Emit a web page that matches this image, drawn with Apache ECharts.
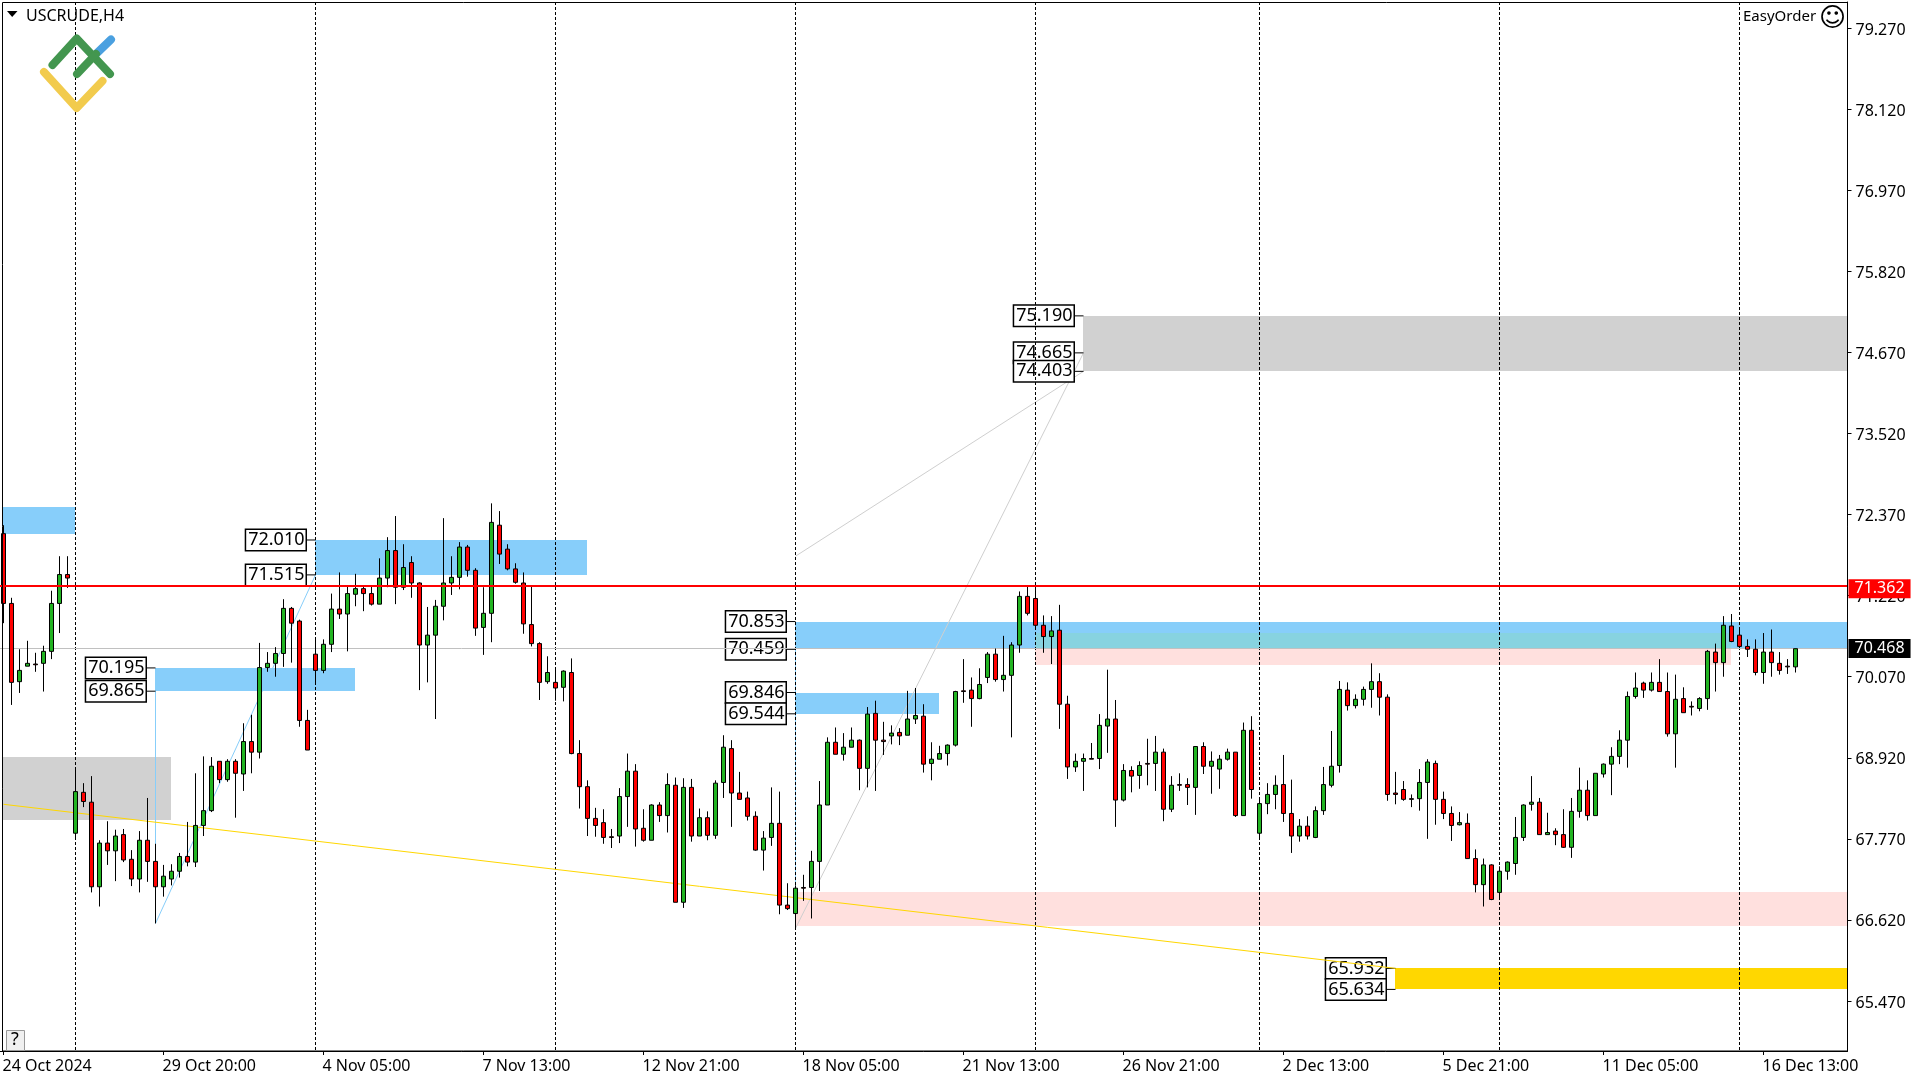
<!DOCTYPE html>
<html>
<head>
<meta charset="utf-8">
<style>html,body{margin:0;padding:0;background:#fff}#chart{width:1920px;height:1080px}</style>
<script src="https://cdn.jsdelivr.net/npm/echarts@6/dist/echarts.min.js"></script>
</head>
<body>
<div id="chart"></div>
<script>
const timeLabels=['24 Oct 2024','29 Oct 20:00','4 Nov 05:00','7 Nov 13:00','12 Nov 21:00','18 Nov 05:00','21 Nov 13:00','26 Nov 21:00','2 Dec 13:00','5 Dec 21:00','11 Dec 05:00','16 Dec 13:00'];
const priceTicks=[65.47,66.62,67.77,68.92,70.07,71.22,72.37,73.52,74.67,75.82,76.97,78.12,79.27];
const sessionBars=[9,39,69,99,129,157,187,217];

const opens=[72.10,71.11,70.00,70.22,70.25,70.26,70.43,71.11,71.52,67.85,68.43,68.29,67.09,67.71,67.60,67.83,67.48,67.20,67.75,67.45,67.09,67.20,67.31,67.52,67.44,
67.96,68.17,68.87,68.61,68.87,68.69,69.15,69.00,70.20,70.26,70.40,71.04,70.86,69.45,70.39,70.16,70.53,71.03,70.96,71.24,71.32,71.25,71.10,71.47,71.86,
71.34,71.69,71.40,70.52,70.66,71.07,71.40,71.48,71.91,71.58,70.77,70.97,72.22,71.88,71.60,71.40,70.81,70.54,70.00,69.99,69.92,70.13,68.98,68.51,68.06,
68.00,67.80,67.81,68.37,68.73,67.92,67.75,68.25,68.10,68.53,66.87,68.50,67.81,68.07,67.82,68.57,69.05,68.42,68.35,68.09,67.61,67.79,67.99,66.83,66.71,
67.08,67.08,67.45,68.25,69.14,68.97,69.07,69.17,68.77,69.55,69.17,69.23,69.28,69.24,69.47,69.51,68.84,68.90,68.98,69.10,69.87,69.88,69.76,70.06,70.39,
70.03,70.09,70.52,71.21,71.18,70.80,70.64,70.73,69.68,68.79,68.87,68.91,68.91,69.37,69.47,68.32,68.74,68.67,68.84,68.84,69.00,68.19,68.54,68.54,68.50,
69.08,68.80,68.76,68.90,69.00,68.10,69.31,67.85,68.27,68.40,68.54,68.13,67.81,67.95,67.79,68.17,68.53,68.81,69.88,69.66,69.75,69.89,70.00,69.78,68.42,
68.47,68.34,68.34,68.57,68.84,68.33,68.13,67.97,67.99,67.49,67.12,67.40,67.01,67.31,67.42,67.79,68.26,68.29,67.83,67.88,67.83,67.65,68.16,68.46,68.10,
68.69,68.83,68.94,69.17,69.79,69.98,69.88,69.99,69.86,69.26,69.76,69.65,69.62,69.76,70.42,70.27,70.79,70.66,70.50,70.46,70.13,70.42,70.26,70.22,70.21];
const highs=[72.22,71.19,70.46,70.58,70.41,70.51,71.29,71.78,71.78,68.75,68.56,68.66,67.75,68.02,67.90,67.91,67.61,67.88,68.35,67.70,67.40,67.41,67.57,68.01,68.70,
68.94,68.93,68.87,68.90,68.90,69.41,69.53,70.55,70.42,70.49,71.17,71.06,70.88,69.60,70.62,70.60,71.25,71.55,71.36,71.53,71.36,71.36,71.75,72.05,72.35,
71.95,71.78,71.41,71.06,71.16,72.32,71.78,71.98,71.94,71.61,71.34,72.53,72.42,71.95,71.68,71.55,71.36,70.56,70.36,70.19,70.16,70.33,69.17,68.60,68.21,
68.19,67.91,68.49,68.98,68.83,68.19,68.26,68.29,68.70,68.64,68.63,68.62,68.20,68.16,68.60,69.24,69.17,68.72,68.44,68.16,67.88,68.50,68.44,67.14,67.11,
67.26,67.60,68.59,69.21,69.35,69.27,69.35,69.18,69.64,69.73,69.43,69.38,69.34,69.87,69.91,69.68,69.14,69.09,69.11,69.87,70.32,70.06,70.19,70.42,70.47,
70.65,70.56,71.28,71.36,71.30,70.94,70.93,71.09,69.80,68.98,68.98,69.13,69.54,70.17,69.74,68.83,68.80,68.87,69.19,69.23,69.05,68.66,68.70,68.63,69.08,
69.14,69.01,68.96,69.05,69.00,69.42,69.51,68.33,68.56,68.67,68.96,68.61,68.05,68.09,68.23,68.79,69.30,70.01,69.99,69.82,69.93,70.26,70.12,69.82,68.72,
68.59,68.40,68.76,68.90,68.88,68.44,68.23,68.15,68.13,67.62,67.49,67.41,67.38,67.45,68.08,68.26,68.66,68.35,68.14,67.92,68.19,68.35,68.78,68.60,68.70,
68.84,69.07,69.31,69.86,70.13,70.00,70.13,70.32,70.13,70.10,69.92,69.72,69.78,70.45,70.54,70.93,70.96,70.76,70.60,70.60,70.69,70.74,70.42,70.32,70.47];
const lows=[70.83,69.67,69.84,70.22,70.14,69.86,70.32,70.69,71.33,67.77,68.22,67.01,66.81,67.40,67.17,67.44,67.10,67.01,67.16,66.57,66.95,67.11,67.22,67.38,67.37,
67.81,68.15,68.56,68.58,68.07,68.45,68.70,68.91,70.14,70.07,70.21,70.27,69.36,69.03,69.99,70.12,70.42,70.89,70.43,71.07,71.00,71.08,71.10,71.34,71.10,
71.30,71.19,69.88,69.99,69.47,70.87,71.23,71.31,71.49,70.65,70.38,70.56,71.67,71.58,71.39,70.68,70.50,69.74,69.97,69.73,69.72,68.97,68.20,67.81,67.80,
67.70,67.64,67.71,67.94,67.66,67.73,67.75,68.01,67.86,66.87,66.79,67.73,67.81,67.75,67.77,68.35,67.94,68.33,68.03,67.60,67.32,67.67,66.70,66.76,66.50,
66.89,66.64,67.03,68.25,68.97,68.88,69.07,68.46,68.50,68.45,68.96,69.11,69.10,69.24,69.40,68.71,68.60,68.90,68.81,69.08,69.70,69.36,69.75,69.98,70.00,
69.86,69.21,70.41,70.94,70.74,70.41,70.25,69.33,68.62,68.72,68.45,68.90,68.76,68.99,67.94,68.30,68.43,68.48,68.53,68.45,68.02,68.15,68.45,68.25,68.11,
68.69,68.41,68.48,68.88,68.08,68.10,68.34,67.76,68.12,68.19,68.01,67.57,67.73,67.76,67.78,68.11,68.50,68.71,69.59,69.62,69.66,69.63,69.52,68.31,68.26,
68.31,68.22,68.17,67.77,67.97,68.05,67.74,67.96,67.49,67.01,66.81,66.90,66.91,67.19,67.26,67.74,68.17,67.83,67.83,67.68,67.64,67.50,68.07,68.03,68.10,
68.64,68.39,68.83,68.78,69.76,69.77,69.86,69.86,69.22,68.78,69.56,69.52,69.58,69.60,69.86,70.07,70.56,70.49,70.35,70.09,69.97,70.07,70.10,70.11,70.13];
const closes=[71.11,69.99,70.16,70.26,70.24,70.43,71.11,71.52,71.47,68.44,68.30,67.09,67.71,67.60,67.81,67.47,67.20,67.75,67.45,67.09,67.24,67.31,67.52,67.44,67.96,
68.17,68.80,68.61,68.87,68.70,69.15,69.00,70.20,70.26,70.40,71.04,70.83,69.45,69.03,70.16,70.53,71.03,70.96,71.25,71.32,71.25,71.10,71.47,71.86,71.34,
71.62,71.40,70.52,70.66,71.07,71.40,71.48,71.91,71.58,70.76,70.97,72.26,71.81,71.60,71.41,70.82,70.54,69.99,70.13,69.91,70.15,68.98,68.51,68.06,67.96,
67.79,67.79,68.37,68.73,67.91,67.75,68.25,68.10,68.54,66.87,68.50,67.81,68.07,67.82,68.56,69.07,68.42,68.33,68.09,67.61,67.78,67.99,66.83,66.78,67.07,
67.07,67.45,68.25,69.14,68.97,69.07,69.17,68.77,69.54,69.17,69.15,69.27,69.23,69.47,69.52,68.83,68.90,68.98,69.10,69.86,69.86,69.76,69.96,70.39,70.03,
70.09,70.52,71.21,70.97,70.80,70.64,70.72,69.68,68.79,68.87,68.91,68.90,69.38,69.47,68.32,68.74,68.66,68.81,68.83,69.00,68.19,68.53,68.53,68.50,69.08,
68.80,68.87,68.90,69.00,68.10,69.31,68.47,68.27,68.40,68.53,68.13,67.81,67.95,67.81,68.17,68.54,68.80,69.89,69.66,69.75,69.89,70.00,69.78,68.40,68.40,
68.33,68.33,68.57,68.86,68.33,68.13,67.96,68.00,67.49,67.12,67.40,66.91,67.31,67.44,67.79,68.25,68.29,67.83,67.86,67.83,67.65,68.16,68.46,68.10,68.70,
68.83,68.94,69.17,69.79,69.91,69.88,69.99,69.86,69.26,69.75,69.56,69.64,69.76,70.43,70.27,70.80,70.57,70.50,70.46,70.13,70.42,70.27,70.16,70.21,70.468];

const zoneStart=[129,99,null,39,19,99,99,129,null,135,174];
const zoneEnd=[216,null,9,73,44,null,117,216,21,null,null];
const zoneTop=[70.686,67.016,72.48,72.01,70.195,70.853,69.846,70.686,68.935,75.19,65.932];
const zoneBottom=[70.236,66.533,72.095,71.515,69.865,70.459,69.544,70.459,68.037,74.403,65.634];
const zoneColor=['#FFE0DE','#FFE0DE','#87CEFA','#87CEFA','#87CEFA','#87CEFA','#87CEFA','#87D3E0','#D1D1D1','#D1D1D1','#FFD700'];

const priceTagBars=[39,39,19,19,99,99,99,99,135,135,135,174,174];
const priceTagValues=[72.01,71.515,70.195,69.865,70.853,70.459,69.846,69.544,75.19,74.665,74.403,65.932,65.634];

const trendBlueA=[[19,69.865],[19,66.57],[39,71.515]];
const trendBlueB=[[99,70.459],[99,66.5]];
const trendGrayA=[[99,66.5],[135,74.665]];
const trendGrayB=[[99,71.78],[135,74.403]];
const trendYellow=[[0,68.26],[174,65.932]];
const redLevel=71.362, lastPrice=70.468;
const yMin=64.7599, yMax=79.6431, barSlots=231;

const FONT='"Noto Sans"';
const categories=Array.from({length:barSlots},(_,i)=>i%20===0&&timeLabels[i/20]?timeLabels[i/20]:'');
const candles=opens.map((o,i)=>[o,closes[i],lows[i],highs[i]]);
const lineSeries=(data,color,z)=>({type:'line',data,z,showSymbol:false,symbol:'none',silent:true,animation:false,lineStyle:{color,width:1},itemStyle:{color}});

const chart=echarts.init(document.getElementById('chart'),null,{renderer:'canvas'});
chart.setOption({
 animation:false,backgroundColor:'#fff',
 grid:{left:-0.5,width:1848,top:2,bottom:29,containLabel:false,outerBoundsMode:'none'},
 xAxis:{type:'category',data:categories,boundaryGap:true,
  axisLine:{show:true,lineStyle:{color:'#000',width:1}},
  axisTick:{show:true,alignWithLabel:true,length:4,interval:i=>i%20===0,lineStyle:{color:'#000'}},
  axisLabel:{show:true,interval:i=>i%20===0,align:'left',margin:7,color:'#000',fontFamily:FONT,fontSize:16,hideOverlap:false,padding:[0,0,0,-1]},
  splitLine:{show:false}},
 yAxis:{type:'value',position:'right',min:yMin,max:yMax,
  axisLine:{show:true,lineStyle:{color:'#000',width:1}},
  axisTick:{show:true,length:4,customValues:priceTicks,lineStyle:{color:'#000'}},
  axisLabel:{show:true,customValues:priceTicks,margin:8,color:'#000',fontFamily:FONT,fontSize:16,verticalAlign:'top',lineHeight:4,formatter:v=>v.toFixed(3),showMinLabel:true,showMaxLabel:true},
  splitLine:{show:false}},
 series:[
  {type:'custom',z:1,silent:true,clip:true,animation:false,data:zoneTop.map((_,i)=>[i]),
   renderItem:(p,api)=>{const i=p.dataIndex,cs=p.coordSys;
    const x0=zoneStart[i]==null?cs.x+3.5:Math.floor(api.coord([zoneStart[i],zoneTop[i]])[0]);
    const x1=zoneEnd[i]==null?cs.x+cs.width:Math.floor(api.coord([zoneEnd[i],zoneTop[i]])[0]);
    const y0=Math.round(api.coord([0,zoneTop[i]])[1]),y1=Math.round(api.coord([0,zoneBottom[i]])[1]);
    return {type:'rect',shape:{x:x0,y:y0,width:x1-x0,height:y1-y0},style:{fill:zoneColor[i]}};}},
  lineSeries(trendBlueA,'#87CEFA',1.5),
  lineSeries(trendBlueB,'#87CEFA',1.5),
  lineSeries(trendGrayA,'#CFCFCF',1.5),
  lineSeries(trendGrayB,'#CFCFCF',1.5),
  {type:'scatter',z:2,silent:true,animation:false,clip:false,
   data:priceTagValues.map((v,i)=>[priceTagBars[i],v]),
   symbol:'rect',symbolSize:[10,1],symbolOffset:[-5,0],itemStyle:{color:'#000',opacity:1},
   label:{show:true,position:'left',distance:0,formatter:p=>p.value[1].toFixed(3),fontFamily:FONT,fontSize:18,color:'#000',
    backgroundColor:'#fff',borderColor:'#000',borderWidth:1.5,padding:[0,1,0,2],lineHeight:20}},
  {type:'custom',z:3,silent:true,clip:true,animation:false,data:sessionBars.map(b=>[b]),
   renderItem:(p,api)=>{const a=api.coord([sessionBars[p.dataIndex],yMax]),b=api.coord([sessionBars[p.dataIndex],yMin]);
    return {type:'line',shape:{x1:a[0],y1:a[1],x2:b[0],y2:b[1]},style:{stroke:'#000',lineWidth:1,lineDash:[3,2]}};}},
  lineSeries(trendYellow,'#FFD700',3.2),
  {type:'line',z:3.2,data:[],markLine:{silent:true,symbol:'none',animation:false,z:3.2,
    data:[{yAxis:lastPrice,lineStyle:{color:'#C0C0C0',width:1,type:'solid'},
      label:{show:true,position:'end',distance:1,formatter:'70.468',color:'#fff',backgroundColor:'#000',fontFamily:FONT,fontSize:16,padding:[0,6,0,6],lineHeight:19}}]}},
  {type:'candlestick',z:4,silent:true,animation:false,data:candles,barWidth:5,
   itemStyle:{color:'#22B422',color0:'#FF0000',borderColor:'#000',borderColor0:'#000',borderColorDoji:'#000',borderWidth:1},
   markLine:{silent:true,symbol:'none',animation:false,z:6,
    data:[{yAxis:redLevel,lineStyle:{color:'#FF0000',width:2,type:'solid'},
      label:{show:true,position:'end',distance:1,offset:[0,3],formatter:'71.362',color:'#fff',backgroundColor:'#FF0000',fontFamily:FONT,fontSize:16,padding:[0,6,0,6],lineHeight:19}}]}}
 ],
 graphic:[
  {type:'rect',silent:true,z:10,shape:{x:2.5,y:2.5,width:1845,height:1048.5},style:{fill:null,stroke:'#000',lineWidth:1}},
  {type:'polygon',silent:true,z:10,shape:{points:[[7,11],[17.5,11],[12.2,17]]},style:{fill:'#000'}},
  {type:'text',silent:true,z:10,x:26,y:8,style:{text:'USCRUDE,H4',font:'16px '+FONT,fill:'#000'}},
  {type:'text',silent:true,z:10,x:1743,y:9,style:{text:'EasyOrder',font:'15px '+FONT,fill:'#000'}},
  {type:'text',silent:true,z:10,x:1819,y:6,style:{text:'\u263A',font:'26px "DejaVu Sans"',fill:'#000'}},
  {type:'polyline',silent:true,z:10,shape:{points:[[96,54],[111,39.5]]},style:{fill:null,stroke:'#4AA0E0',lineWidth:8,lineCap:'round',lineJoin:'round'}},
  {type:'polyline',silent:true,z:10,shape:{points:[[52.5,65],[76.7,38.5],[110,74]]},style:{fill:null,stroke:'#43964F',lineWidth:8,lineCap:'round',lineJoin:'round'}},
  {type:'polyline',silent:true,z:10,shape:{points:[[77,74],[96,54]]},style:{fill:null,stroke:'#43964F',lineWidth:8,lineCap:'round',lineJoin:'round'}},
  {type:'polyline',silent:true,z:10,shape:{points:[[44,72],[76.7,108],[102.5,81]]},style:{fill:null,stroke:'#F2CB4D',lineWidth:8,lineCap:'round',lineJoin:'round'}},
  {type:'rect',silent:true,z:10,shape:{x:6.5,y:1030.5,width:18,height:20},style:{fill:'#F0F0F0',stroke:'#999',lineWidth:1}},
  {type:'text',silent:true,z:11,x:11,y:1031,style:{text:'?',font:'18px '+FONT,fill:'#000'}}
 ]
});
</script>
</body>
</html>
